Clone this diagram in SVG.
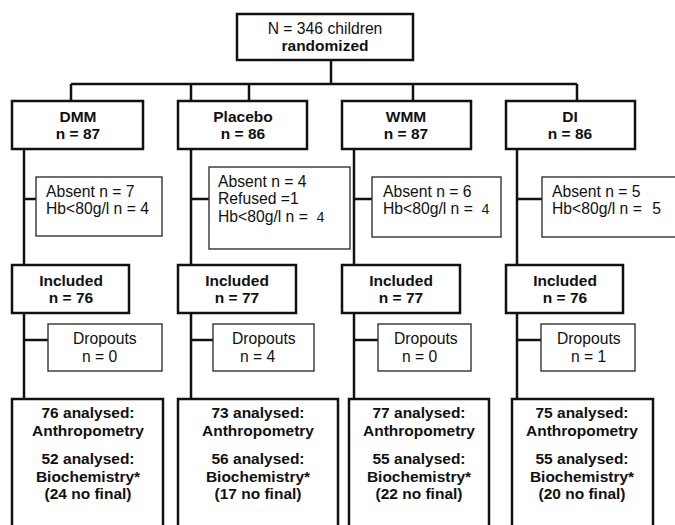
<svg xmlns="http://www.w3.org/2000/svg" width="675" height="525" viewBox="0 0 675 525">
<style>
.main{fill:#fff;stroke:#111;stroke-width:2.5}
.sub{fill:#fff;stroke:#333;stroke-width:1.4}
.ln{stroke:#111;stroke-width:2.5;fill:none}
text{font-family:"Liberation Sans",Arial,sans-serif;fill:#111}
.b{font-weight:bold;font-size:15.5px;text-anchor:middle}
.r{font-size:15.7px}
.c{text-anchor:middle}
.typ{font-family:"Liberation Mono","Courier New",monospace;font-size:14px}
</style>
<rect width="675" height="525" fill="#fff"/>
<g id="connectors">
<path class="ln" d="M331,60V84M71,84H577M71,84V101M191,84V101M249,84V101M413,84V101M577,84V101"/>
<path class="ln" d="M24,149V265M24,313V399M24,199H36M24,340H48"/>
<path class="ln" d="M191,149V265M191,313V399M191,199H209M191,340H213"/>
<path class="ln" d="M354,149V265M354,313V399M354,199H372M354,340H378"/>
<path class="ln" d="M517,149V265M517,313V399M517,199H542M517,340H541"/>
</g>
<g id="randomized">
<rect class="main" x="237" y="14" width="176" height="46"/>
<text class="r c" x="325" y="34">N = 346 children</text>
<text class="b" x="325" y="51">randomized</text>
</g>
<g id="dmm">
<rect class="main" x="12" y="101" width="131" height="48"/>
<text class="b" x="78" y="122">DMM</text>
<text class="b" x="78" y="139">n = 87</text>
</g>
<g id="placebo">
<rect class="main" x="178" y="101" width="129" height="48"/>
<text class="b" x="243" y="122">Placebo</text>
<text class="b" x="243" y="139">n = 86</text>
</g>
<g id="wmm">
<rect class="main" x="342" y="101" width="129" height="48"/>
<text class="b" x="406" y="122">WMM</text>
<text class="b" x="406" y="139">n = 87</text>
</g>
<g id="di">
<rect class="main" x="506" y="101" width="129" height="48"/>
<text class="b" x="570" y="122">DI</text>
<text class="b" x="570" y="139">n = 86</text>
</g>
<g id="dmm-excluded">
<rect class="sub" x="36" y="177" width="126" height="59"/>
<text class="r" x="46" y="197">Absent n = 7</text>
<text class="r" x="46" y="214">Hb&lt;80g/l n = 4</text>
</g>
<g id="placebo-excluded">
<rect class="sub" x="209" y="167" width="141" height="82"/>
<text class="r" x="218" y="187">Absent n = 4</text>
<text class="r" x="218" y="204">Refused =1</text>
<text class="r" x="218" y="222">Hb&lt;80g/l n = <tspan class="typ" dx="4">4</tspan></text>
</g>
<g id="wmm-excluded">
<rect class="sub" x="372" y="177" width="129" height="60"/>
<text class="r" x="383" y="197">Absent n = 6</text>
<text class="r" x="383" y="214">Hb&lt;80g/l n = <tspan class="typ" dx="4">4</tspan></text>
</g>
<g id="di-excluded">
<rect class="sub" x="542" y="177" width="140" height="60"/>
<text class="r" x="552" y="197">Absent n = 5</text>
<text class="r" x="552" y="214">Hb&lt;80g/l n = <tspan dx="6">5</tspan></text>
</g>
<g id="dmm-included">
<rect class="main" x="12" y="265" width="117" height="48"/>
<text class="b" x="71" y="286">Included</text>
<text class="b" x="71" y="303">n = 76</text>
</g>
<g id="placebo-included">
<rect class="main" x="178" y="265" width="118" height="48"/>
<text class="b" x="237" y="286">Included</text>
<text class="b" x="237" y="303">n = 77</text>
</g>
<g id="wmm-included">
<rect class="main" x="342" y="265" width="118" height="48"/>
<text class="b" x="401" y="286">Included</text>
<text class="b" x="401" y="303">n = 77</text>
</g>
<g id="di-included">
<rect class="main" x="506" y="265" width="117" height="48"/>
<text class="b" x="565" y="286">Included</text>
<text class="b" x="565" y="303">n = 76</text>
</g>
<g id="dmm-dropouts">
<rect class="sub" x="48" y="324" width="114" height="47"/>
<text class="r" x="73" y="344">Dropouts</text>
<text class="r" x="82" y="362">n = 0</text>
</g>
<g id="placebo-dropouts">
<rect class="sub" x="213" y="324" width="101" height="47"/>
<text class="r" x="232" y="344">Dropouts</text>
<text class="r" x="240" y="362">n = 4</text>
</g>
<g id="wmm-dropouts">
<rect class="sub" x="378" y="324" width="93" height="47"/>
<text class="r" x="394" y="344">Dropouts</text>
<text class="r" x="402" y="362">n = 0</text>
</g>
<g id="di-dropouts">
<rect class="sub" x="541" y="324" width="94" height="47"/>
<text class="r" x="557" y="344">Dropouts</text>
<text class="r" x="571" y="362">n = 1</text>
</g>
<g id="dmm-analysed">
<rect class="main" x="12" y="399" width="151" height="140"/>
<text class="b" x="88" y="418">76 analysed:</text>
<text class="b" x="88" y="436">Anthropometry</text>
<text class="b" x="88" y="464">52 analysed:</text>
<text class="b" x="88" y="482">Biochemistry*</text>
<text class="b" x="88" y="499">(24 no final)</text>
</g>
<g id="placebo-analysed">
<rect class="main" x="178" y="399" width="160" height="140"/>
<text class="b" x="258" y="418">73 analysed:</text>
<text class="b" x="258" y="436">Anthropometry</text>
<text class="b" x="258" y="464">56 analysed:</text>
<text class="b" x="258" y="482">Biochemistry*</text>
<text class="b" x="258" y="499">(17 no final)</text>
</g>
<g id="wmm-analysed">
<rect class="main" x="349" y="399" width="140" height="140"/>
<text class="b" x="419" y="418">77 analysed:</text>
<text class="b" x="419" y="436">Anthropometry</text>
<text class="b" x="419" y="464">55 analysed:</text>
<text class="b" x="419" y="482">Biochemistry*</text>
<text class="b" x="419" y="499">(22 no final)</text>
</g>
<g id="di-analysed">
<rect class="main" x="512" y="399" width="141" height="140"/>
<text class="b" x="582" y="418">75 analysed:</text>
<text class="b" x="582" y="436">Anthropometry</text>
<text class="b" x="582" y="464">55 analysed:</text>
<text class="b" x="582" y="482">Biochemistry*</text>
<text class="b" x="582" y="499">(20 no final)</text>
</g>
</svg>
